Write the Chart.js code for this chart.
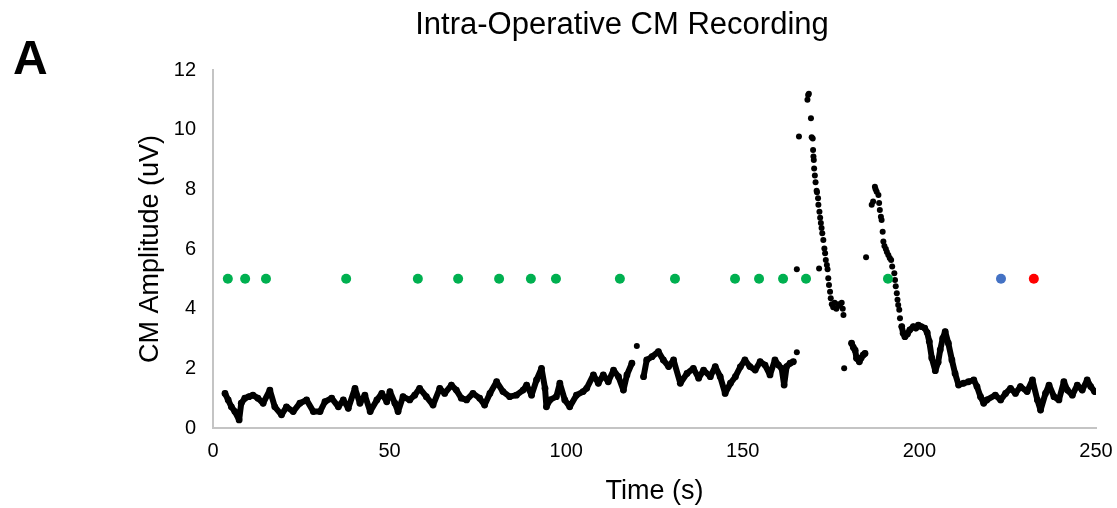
<!DOCTYPE html>
<html><head><meta charset="utf-8">
<script src="https://cdn.jsdelivr.net/npm/chart.js@4.4.0/dist/chart.umd.min.js"></script>
<style>html,body{margin:0;padding:0;background:#fff;overflow:hidden}</style>
</head><body>
<canvas id="c" width="1117" height="508"></canvas>
<script>
const chartTitle = 'Intra-Operative CM Recording';
const panelLabel = 'A';
const xTitle = 'Time (s)';
const yTitle = 'CM Amplitude (uV)';

const greenTimes = [4.2, 9.1, 15.0, 37.7, 58.0, 69.4, 81.0, 90.0, 97.1, 115.2, 130.8, 147.8, 154.6, 161.4, 167.9, 191.1];
const blueTimes = [223.1];
const redTimes = [232.4];
const markerLevel = 5;

// continuous part of the CM trace (null = gap)
const traceTime = [3.4,4.3,5.2,6.2,7.4,8.0,9.0,10.2,11.3,12.7,14.2,16.1,17.5,19.4,20.8,22.7,24.6,26.5,28.4,30.3,31.7,33.6,35.5,36.9,38.3,40.2,41.6,43.0,44.5,46.4,47.8,49.2,50.1,51.5,52.4,53.8,55.7,57.1,58.5,60.4,62.3,64.2,65.6,67.5,68.9,70.3,71.8,73.6,75.5,76.9,78.4,80.3,82.1,84.0,85.9,87.8,88.8,90.2,91.6,93.0,94.0,94.4,95.4,97.2,98.2,99.6,101.0,102.9,104.8,105.8,107.7,109.1,110.5,111.9,113.4,114.8,116.2,117.2,118.6,
  119.5,
  121.9,122.8,124.3,126.1,127.5,129.0,130.4,132.3,134.2,136.0,137.5,138.9,140.8,142.2,143.6,145.0,146.5,147.9,149.3,150.6,152.0,153.5,154.9,156.3,157.7,159.1,160.1,161.0,161.7,162.4,163.4,164.3,
  166.0,
  180.8,181.3,181.8,182.2,183.0,183.5,184.1,184.6,
  185.5,
  195.0,195.4,195.9,196.6,197.3,198.3,199.0,199.7,200.5,201.5,202.2,202.8,203.5,204.5,205.3,205.9,206.6,207.3,208.2,209.2,210.1,211.1,212.5,213.9,215.4,216.3,217.3,218.2,219.1,221.5,223.0,224.4,225.8,227.2,228.6,230.5,232.0,233.4,234.3,235.7,236.7,238.1,239.5,240.9,241.9,243.3,244.7,246.1,247.5,248.5,249.6];
const traceAmp = [1.16,0.94,0.71,0.55,0.27,0.83,1.0,1.05,1.1,1.0,0.83,1.27,0.71,0.44,0.71,0.55,0.83,0.94,0.55,0.55,0.88,1.0,0.71,0.94,0.66,1.33,0.83,1.1,0.55,0.94,1.16,0.88,1.22,0.83,0.55,1.05,0.94,1.1,1.33,1.05,0.77,1.33,1.16,1.44,1.27,1.0,0.94,1.16,1.0,0.77,1.16,1.55,1.22,1.05,1.1,1.27,1.44,1.1,1.61,2.0,1.33,0.71,0.94,1.05,1.5,0.94,0.71,1.1,1.22,1.33,1.78,1.5,1.78,1.55,1.94,1.72,1.27,1.78,2.17,
  null,
  1.72,2.28,2.39,2.56,2.28,2.06,2.28,1.5,1.83,2.0,1.67,1.94,1.72,2.06,1.72,1.16,1.5,1.72,2.05,2.28,2.06,1.94,2.22,2.11,1.78,2.28,2.11,2.0,1.44,2.06,2.17,2.22,
  null,
  2.84,2.7,2.61,2.34,2.22,2.35,2.45,2.5,
  null,
  3.4,3.18,3.06,3.15,3.29,3.4,3.35,3.45,3.4,3.35,3.2,2.9,2.35,1.92,2.2,2.62,3.0,3.23,2.84,2.28,1.83,1.44,1.5,1.55,1.61,1.39,1.05,0.83,0.94,1.1,0.94,1.16,1.33,1.16,1.39,1.22,1.61,0.94,0.6,1.16,1.44,1.05,0.94,1.55,1.27,1.1,1.44,1.27,1.61,1.39,1.22];

// sparse samples: the two fast peaks and isolated readings
const sparseTime = [120.0,165.3,165.3,165.9,171.6,178.7,184.9,
  168.3,168.5,168.7,169.3,169.5,169.8,169.9,170.0,170.1,170.2,170.4,170.6,170.9,171.0,171.3,171.4,171.7,171.9,172.1,172.3,172.5,172.8,173.1,173.3,173.5,173.8,174.0,174.2,174.4,174.7,174.9,175.2,175.6,176.0,176.5,177.0,177.5,178.0,178.3,178.5,
  186.5,186.9,187.4,187.6,187.9,188.4,188.6,188.8,189.1,189.3,189.6,189.8,190.1,190.5,190.8,191.2,191.6,192.0,192.3,192.9,193.1,193.3,193.6,193.8,194.0,194.3,194.5];
const sparseAmp = [2.75,2.54,5.32,9.77,5.35,2.0,5.72,
  11.0,11.16,11.2,10.38,9.75,9.7,9.32,9.1,8.98,8.7,8.46,8.24,7.95,7.9,7.7,7.48,7.25,7.05,6.87,6.7,6.53,6.3,6.02,5.86,5.63,5.46,5.32,5.02,4.79,4.57,4.35,4.15,4.05,4.2,4.0,4.15,4.1,4.2,4.0,3.79,
  7.48,7.59,8.09,8.0,7.92,7.81,7.54,7.31,7.08,6.97,6.58,6.25,6.1,6.0,5.9,5.8,5.7,5.63,5.41,5.19,4.96,4.75,4.52,4.3,4.12,3.96,3.68];

const xTicks = {min: 0, max: 250, step: 50};
const yTicks = {min: 0, max: 12, step: 2};

const pts = (xs, ys) => xs.map((x, i) => ({x, y: ys[i]}));
const lvl = (xs, v) => xs.map(x => ({x, y: v}));
const FONT = '"Liberation Sans", Arial, sans-serif';

const textPlugin = {
  id: 'texts',
  afterDraw(chart) {
    const ctx = chart.ctx;
    ctx.save();
    ctx.fillStyle = '#000';
    ctx.textBaseline = 'alphabetic';
    ctx.font = '31px ' + FONT;
    ctx.textAlign = 'center';
    ctx.fillText(chartTitle, 622, 34);
    ctx.font = 'bold 48px ' + FONT;
    ctx.textAlign = 'left';
    ctx.fillText(panelLabel, 13, 74);
    ctx.restore();
  }
};

new Chart(document.getElementById('c'), {
  type: 'scatter',
  data: {
    datasets: [
      {data: lvl(greenTimes, markerLevel), backgroundColor: '#00b050', pointRadius: 5, pointBorderWidth: 0},
      {data: lvl(blueTimes, markerLevel), backgroundColor: '#4472c4', pointRadius: 5, pointBorderWidth: 0},
      {data: lvl(redTimes, markerLevel), backgroundColor: '#ff0000', pointRadius: 5, pointBorderWidth: 0},
      {data: pts(sparseTime, sparseAmp), backgroundColor: '#000', pointRadius: 3, pointBorderWidth: 0},
      {data: pts(traceTime, traceAmp), backgroundColor: '#000', borderColor: '#000', showLine: true, spanGaps: false,
       borderWidth: 6, borderCapStyle: 'round', borderJoinStyle: 'round', pointRadius: 3.4, pointBorderWidth: 0}
    ]
  },
  options: {
    responsive: false, animation: false, devicePixelRatio: 1,
    layout: {padding: {left: 0, top: 70, right: 21, bottom: 0}},
    plugins: {legend: {display: false}, tooltip: {enabled: false}},
    scales: {
      x: {
        type: 'linear', min: xTicks.min, max: xTicks.max,
        ticks: {stepSize: xTicks.step, color: '#000', font: {family: FONT, size: 20}, padding: 11},
        grid: {display: false, drawTicks: false},
        border: {display: true, color: '#c4c4c4', width: 2},
        title: {display: true, text: xTitle, color: '#000', font: {family: FONT, size: 27}, padding: {top: 0, bottom: 0}},
        afterFit(s) { s.height = 80; s.paddingLeft = 0; s.paddingRight = 0; }
      },
      y: {
        type: 'linear', min: yTicks.min, max: yTicks.max,
        ticks: {stepSize: yTicks.step, color: '#000', font: {family: FONT, size: 20}, padding: 17},
        grid: {display: false, drawTicks: false},
        border: {display: true, color: '#c4c4c4', width: 2},
        title: {display: true, text: yTitle, color: '#000', font: {family: FONT, size: 27}, padding: {top: 134, bottom: 0}},
        afterFit(s) { s.width = 213; s.paddingTop = 0; s.paddingBottom = 0; }
      }
    }
  },
  plugins: [textPlugin]
});
</script></body></html>
